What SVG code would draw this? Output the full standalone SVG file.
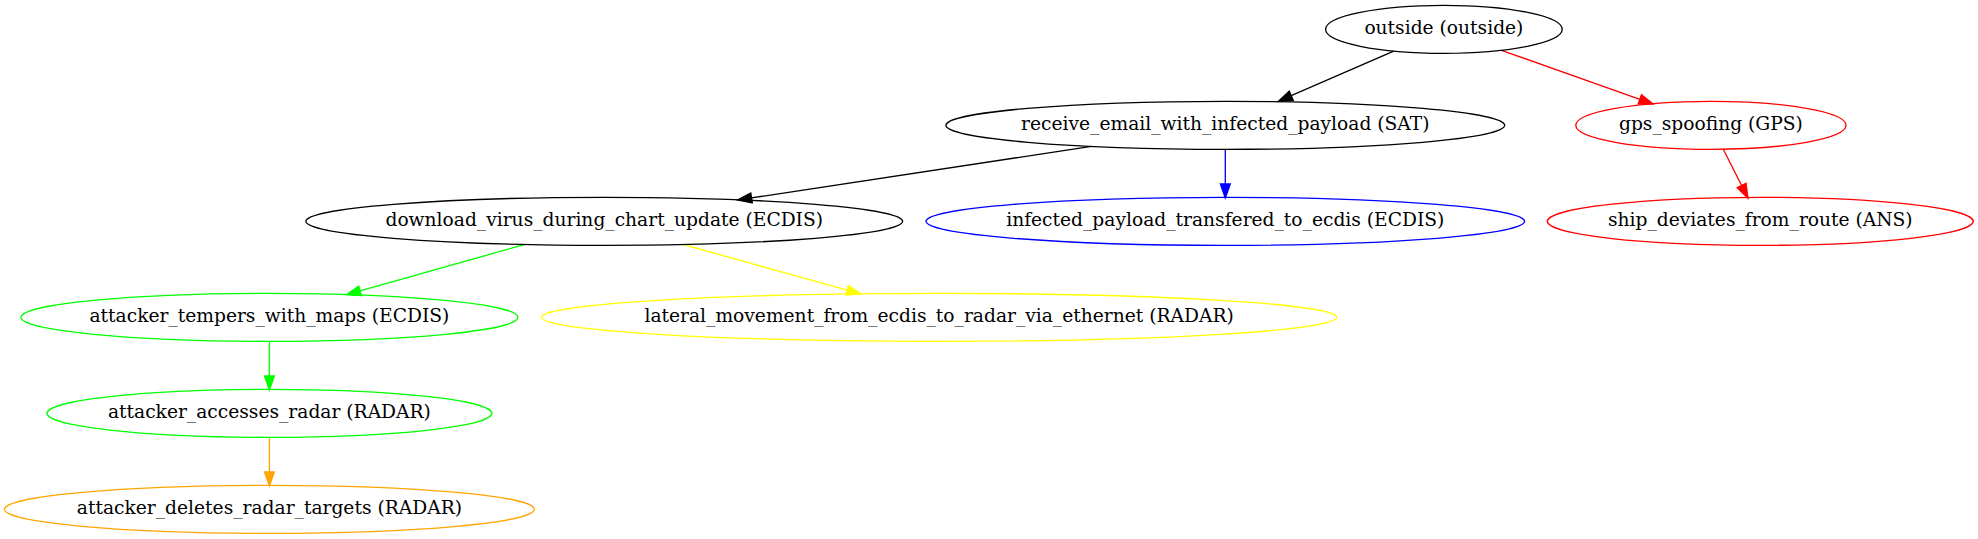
<svg xmlns="http://www.w3.org/2000/svg" width="1978" height="539" viewBox="0 0 1978 539">
<style>
  .node ellipse { fill: none; stroke-width: 1.33; }
  .node text { font-family: "DejaVu Serif", "Liberation Serif", serif; font-size: 18.67px; text-anchor: middle; fill: #000; }
  .edge { fill: none; stroke-width: 1.33; }
  .k { stroke: #000000; }
  .r { stroke: #ff0000; }
  .b { stroke: #0000ff; }
  .g { stroke: #00ff00; }
  .y { stroke: #ffff00; }
  .o { stroke: #ffa500; }
</style>
<defs>
  <marker id="ah-k" markerUnits="userSpaceOnUse" markerWidth="14" markerHeight="10" viewBox="0 0 13.33 9.33" refX="0" refY="4.67" orient="auto" overflow="visible"><path d="M0,0 L13.33,4.67 L0,9.33 z" fill="#000000" stroke="#000000" stroke-width="1.33"/></marker>
  <marker id="ah-r" markerUnits="userSpaceOnUse" markerWidth="14" markerHeight="10" viewBox="0 0 13.33 9.33" refX="0" refY="4.67" orient="auto" overflow="visible"><path d="M0,0 L13.33,4.67 L0,9.33 z" fill="#ff0000" stroke="#ff0000" stroke-width="1.33"/></marker>
  <marker id="ah-b" markerUnits="userSpaceOnUse" markerWidth="14" markerHeight="10" viewBox="0 0 13.33 9.33" refX="0" refY="4.67" orient="auto" overflow="visible"><path d="M0,0 L13.33,4.67 L0,9.33 z" fill="#0000ff" stroke="#0000ff" stroke-width="1.33"/></marker>
  <marker id="ah-g" markerUnits="userSpaceOnUse" markerWidth="14" markerHeight="10" viewBox="0 0 13.33 9.33" refX="0" refY="4.67" orient="auto" overflow="visible"><path d="M0,0 L13.33,4.67 L0,9.33 z" fill="#00ff00" stroke="#00ff00" stroke-width="1.33"/></marker>
  <marker id="ah-y" markerUnits="userSpaceOnUse" markerWidth="14" markerHeight="10" viewBox="0 0 13.33 9.33" refX="0" refY="4.67" orient="auto" overflow="visible"><path d="M0,0 L13.33,4.67 L0,9.33 z" fill="#ffff00" stroke="#ffff00" stroke-width="1.33"/></marker>
  <marker id="ah-o" markerUnits="userSpaceOnUse" markerWidth="14" markerHeight="10" viewBox="0 0 13.33 9.33" refX="0" refY="4.67" orient="auto" overflow="visible"><path d="M0,0 L13.33,4.67 L0,9.33 z" fill="#ffa500" stroke="#ffa500" stroke-width="1.33"/></marker>
</defs>
<rect x="0" y="0" width="1978" height="539" fill="#ffffff"/>

<g id="connectors">
  <path class="edge k" d="M1393.7,51.1 L1291.2,95.7" marker-end="url(#ah-k)"/>
  <path class="edge r" d="M1501.4,50.3 L1639.9,99.3" marker-end="url(#ah-r)"/>
  <path class="edge k" d="M1091.4,146.4 L751.5,197.9" marker-end="url(#ah-k)"/>
  <path class="edge b" d="M1225.3,149.33 L1225.3,184" marker-end="url(#ah-b)"/>
  <path class="edge r" d="M1723.3,149.2 L1741.6,185.5" marker-end="url(#ah-r)"/>
  <path class="edge g" d="M524.6,244.5 L360.1,290.9" marker-end="url(#ah-g)"/>
  <path class="edge y" d="M683.3,244.5 L847.2,290.2" marker-end="url(#ah-y)"/>
  <path class="edge g" d="M269.4,341.33 L269.4,376" marker-end="url(#ah-g)"/>
  <path class="edge o" d="M269.4,437.33 L269.4,472" marker-end="url(#ah-o)"/>
</g>

<g id="node-outside" class="node">
  <ellipse class="k" cx="1443.9" cy="29.33" rx="118.3" ry="24"/>
  <text x="1443.9" y="34.26">outside (outside)</text>
</g>
<g id="node-receive_email" class="node">
  <ellipse class="k" cx="1225.3" cy="125.33" rx="279.4" ry="24"/>
  <text x="1225.3" y="130.26">receive_email_with_infected_payload (SAT)</text>
</g>
<g id="node-gps_spoofing" class="node">
  <ellipse class="r" cx="1710.9" cy="125.33" rx="135.1" ry="24"/>
  <text x="1710.9" y="130.26">gps_spoofing (GPS)</text>
</g>
<g id="node-download_virus" class="node">
  <ellipse class="k" cx="604.25" cy="221.33" rx="298.4" ry="24"/>
  <text x="604.25" y="226.26">download_virus_during_chart_update (ECDIS)</text>
</g>
<g id="node-infected_payload" class="node">
  <ellipse class="b" cx="1225.3" cy="221.33" rx="299.3" ry="24"/>
  <text x="1225.3" y="226.26">infected_payload_transfered_to_ecdis (ECDIS)</text>
</g>
<g id="node-ship_deviates" class="node">
  <ellipse class="r" cx="1760.3" cy="221.33" rx="213" ry="24"/>
  <text x="1760.3" y="226.26">ship_deviates_from_route (ANS)</text>
</g>
<g id="node-attacker_tempers" class="node">
  <ellipse class="g" cx="269.4" cy="317.33" rx="248.5" ry="24"/>
  <text x="269.4" y="322.26">attacker_tempers_with_maps (ECDIS)</text>
</g>
<g id="node-lateral_movement" class="node">
  <ellipse class="y" cx="939.1" cy="317.33" rx="397.6" ry="24"/>
  <text x="939.1" y="322.26">lateral_movement_from_ecdis_to_radar_via_ethernet (RADAR)</text>
</g>
<g id="node-attacker_accesses" class="node">
  <ellipse class="g" cx="269.4" cy="413.33" rx="222.5" ry="24"/>
  <text x="269.4" y="418.26">attacker_accesses_radar (RADAR)</text>
</g>
<g id="node-attacker_deletes" class="node">
  <ellipse class="o" cx="269.4" cy="509.33" rx="265" ry="24"/>
  <text x="269.4" y="514.26">attacker_deletes_radar_targets (RADAR)</text>
</g>
</svg>
